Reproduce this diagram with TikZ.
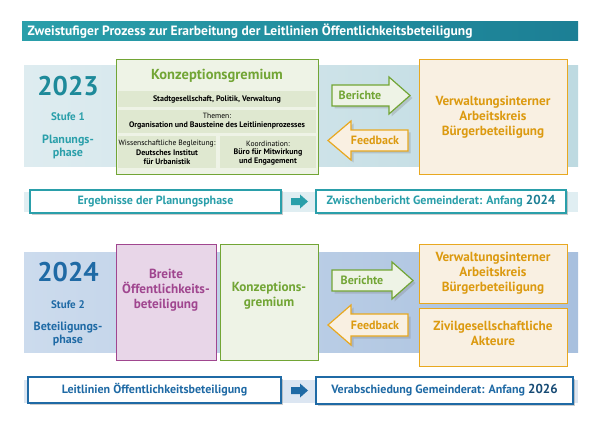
\documentclass[tikz,border=0pt]{standalone}
\usepackage{fontspec}
\setmainfont{PT Sans}
\usetikzlibrary{shadows}
\definecolor{teal}{HTML}{2A9FAA}
\definecolor{tealT}{HTML}{1E8A9A}
\definecolor{tealD}{HTML}{1C7F95}
\definecolor{grn}{HTML}{72A535}
\definecolor{grnF}{HTML}{EEF3E6}
\definecolor{grnR}{HTML}{DFE8D0}
\definecolor{org}{HTML}{E8A820}
\definecolor{orgT}{HTML}{DC9A10}
\definecolor{orgF}{HTML}{F9F0E2}
\definecolor{blu}{HTML}{1F6AA5}
\definecolor{mag}{HTML}{A0468F}
\definecolor{magF}{HTML}{E8D6E8}
\definecolor{bandAL}{HTML}{DEECF0}
\definecolor{bandAR}{HTML}{BEDAE1}
\definecolor{bandBL}{HTML}{CCDBED}
\definecolor{bandBR}{HTML}{A8C0DE}
\definecolor{rowA}{HTML}{E0EEF2}
\definecolor{rowB}{HTML}{DCE6F2}
\begin{document}
\begin{tikzpicture}[x=1pt,y=-1pt,font=\bfseries,
  lbl/.style={align=center,inner sep=0pt,font=\bfseries\fontsize{8}{9}\selectfont},
  sm/.style={align=center,inner sep=0pt,font=\fontsize{7.6}{8.5}\selectfont},
  big/.style={font=\bfseries\fontsize{27}{28}\selectfont},
  mid/.style={align=center,font=\bfseries\fontsize{12}{13}\selectfont},
  box/.style={align=center,font=\bfseries\fontsize{13.2}{15}\selectfont},
  bar/.style={draw=#1,line width=1.2pt,fill=white,drop shadow={opacity=0.4,shadow xshift=1.5pt,shadow yshift=-1.5pt}},
  arr/.style={draw=#1,line width=1.2pt,drop shadow={opacity=0.3}}]
\useasboundingbox (0,0) rectangle (600,425);
\fill[white] (0,0) rectangle (600,425);
% title
\shade[left color=teal,right color=tealD] (22,22) rectangle (578,41);
\node[anchor=west,white,font=\bfseries\fontsize{13.5}{15}\selectfont] (title) at (24,31.5) {Zweistufiger Prozess zur Erarbeitung der Leitlinien Öffentlichkeitsbeteiligung};
% ===== top band
\shade[left color=bandAL, right color=bandAR] (24,66) rectangle (578,167);
\node[tealT,big] (y1) at (68,86) {2023};
\node[teal,font=\bfseries\fontsize{11}{12}\selectfont] (s1) at (68,117) {Stufe 1};
\node[teal,mid] (p1) at (68,147) {Planungs-\\phase};
\draw[grn,fill=grnF,line width=1pt] (116,60) rectangle (318,175);
\node[grn,font=\bfseries\fontsize{14.5}{16}\selectfont] (kg1) at (217,76) {Konzeptionsgremium};
\fill[grnR] (118,91) rectangle (316,107);
\node[lbl] (r1) at (217,99) {Stadtgesellschaft, Politik, Verwaltung};
\fill[grnR] (118,110) rectangle (316,133);
\node[sm] (r2a) at (217,115.5) {Themen:};
\node[lbl] (r2b) at (217,125) {Organisation und Bausteine des Leitlinienprozesses};
\fill[grnR] (118,136) rectangle (216,168);
\fill[grnR] (220,136) rectangle (316,168);
\node[sm] (r3a) at (167,144) {Wissenschaftliche Begleitung:};
\node[lbl] (r3b) at (167,157) {Deutsches Institut\\für Urbanistik};
\node[sm] (r4a) at (268,144) {Koordination:};
\node[lbl] (r4b) at (268,157) {Büro für Mitwirkung\\und Engagement};
% arrows top
\draw[arr=grn,fill=grnF] (332,85)--(389,85)--(389,77)--(410,95.5)--(389,114)--(389,106)--(332,106)--cycle;
\node[grn,mid] (b1) at (360,95.5) {Berichte};
\draw[arr=org,fill=orgF] (408,130)--(351,130)--(351,121)--(328,140.5)--(351,160)--(351,151)--(408,151)--cycle;
\node[orgT,mid] (f1) at (375,140.5) {Feedback};
\draw[org,fill=orgF,line width=1pt] (419,60) rectangle (567,175);
\node[orgT,box] (vw1) at (493,117) {Verwaltungsinterner\\Arbeitskreis\\Bürgerbeteiligung};
% results row 1
\fill[rowA] (24,192) rectangle (578,212);
\draw[bar=teal] (30,190) rectangle (281,213);
\node[teal,mid] (e1) at (155.5,201.5) {Ergebnisse der Planungsphase};
\draw[bar=teal] (316,190) rectangle (566,213);
\node[teal,mid] (z1) at (441,201.5) {Zwischenbericht Gemeinderat: Anfang {\color{tealD}\fontsize{13}{14}\selectfont 2024}};
\fill[teal] (291,198)--(300,198)--(300,194.5)--(308,201.5)--(300,208.5)--(300,205)--(291,205)--cycle;
% ===== bottom band
\shade[left color=bandBL, right color=bandBR] (24,252) rectangle (578,352);
\node[blu,big] (y2) at (68,272) {2024};
\node[blu,font=\bfseries\fontsize{11}{12}\selectfont] (s2) at (68,305) {Stufe 2};
\node[blu,mid] (p2) at (68,334) {Beteiligungs-\\phase};
\draw[mag,fill=magF,line width=1pt] (116,244) rectangle (216,360);
\node[mag,box] (br) at (166,290) {Breite\\Öffentlichkeits-\\beteiligung};
\draw[grn,fill=grnF,line width=1pt] (220,244) rectangle (318,360);
\node[grn,box] (kg2) at (269,296) {Konzeptions-\\gremium};
\draw[arr=grn,fill=grnF] (332,270)--(392,270)--(392,262)--(413,280.5)--(392,299)--(392,291)--(332,291)--cycle;
\node[grn,mid] (b2) at (362,280.5) {Berichte};
\draw[arr=org,fill=orgF] (408,314)--(351,314)--(351,305)--(328,325)--(351,345)--(351,336)--(408,336)--cycle;
\node[orgT,mid] (f2) at (375,325) {Feedback};
\draw[org,fill=orgF,line width=1pt] (419,244) rectangle (567,303);
\node[orgT,box] (vw2) at (493,273.5) {Verwaltungsinterner\\Arbeitskreis\\Bürgerbeteiligung};
\draw[org,fill=orgF,line width=1pt] (419,308) rectangle (567,366);
\node[orgT,box] (zg) at (493,333) {Zivilgesellschaftliche\\Akteure};
% results row 2
\fill[rowB] (24,380) rectangle (578,403);
\draw[bar=blu] (28,377) rectangle (281,403);
\node[blu,mid] (l2) at (154.5,390) {Leitlinien Öffentlichkeitsbeteiligung};
\draw[bar=blu] (316,377) rectangle (573,404);
\node[blu,mid] (v2) at (444.5,390.5) {Verabschiedung Gemeinderat: Anfang {\color{blu!70!black}\fontsize{13}{14}\selectfont 2026}};
\fill[blu] (291,387)--(300,387)--(300,383.5)--(308,390.5)--(300,397.5)--(300,394)--(291,394)--cycle;
\end{tikzpicture}
\end{document}
